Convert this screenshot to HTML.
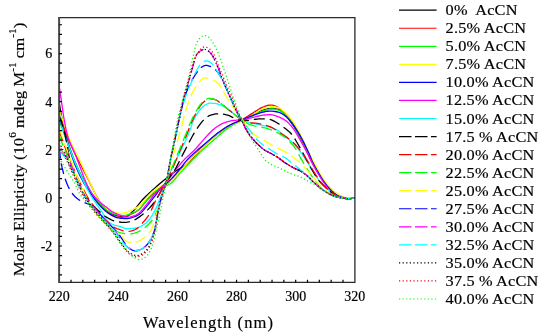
<!DOCTYPE html>
<html><head><meta charset="utf-8"><style>html,body{margin:0;padding:0;background:#fff;}svg{display:block;will-change:transform;}text{stroke:#000;stroke-width:0.18px;}</style></head><body>
<svg width="550" height="335" viewBox="0 0 550 335" style="font-family:'Liberation Serif',serif">
<rect width="550" height="335" fill="#fff"/>
<defs><clipPath id="pc"><rect x="59" y="17" width="296" height="266"/></clipPath></defs>
<g clip-path="url(#pc)" fill="none" stroke-width="1.3" stroke-linejoin="round">
<path d="M59.20,102.90 L60.68,111.74 L62.16,119.43 L63.63,126.40 L65.11,132.48 L66.59,137.81 L68.07,142.73 L69.55,147.30 L71.02,151.57 L72.50,155.60 L73.98,159.42 L75.46,163.04 L76.94,166.46 L78.41,169.69 L79.89,172.78 L81.37,175.76 L82.85,178.66 L84.33,181.52 L85.80,184.32 L87.28,187.03 L88.76,189.62 L90.24,192.05 L91.72,194.29 L93.19,196.37 L94.67,198.35 L96.15,200.22 L97.63,201.97 L99.11,203.61 L100.58,205.12 L102.06,206.54 L103.54,207.91 L105.02,209.20 L106.50,210.39 L107.97,211.44 L109.45,212.33 L110.93,213.12 L112.41,213.88 L113.89,214.56 L115.36,215.16 L116.84,215.62 L118.32,215.94 L119.80,216.16 L121.28,216.36 L122.75,216.51 L124.23,216.62 L125.71,216.66 L127.19,216.30 L128.67,215.37 L130.14,214.05 L131.62,212.57 L133.10,211.13 L134.58,209.60 L136.06,207.82 L137.53,205.89 L139.01,203.93 L140.49,202.03 L141.97,200.31 L143.45,198.74 L144.92,197.23 L146.40,195.78 L147.88,194.37 L149.36,192.99 L150.84,191.63 L152.31,190.29 L153.79,188.95 L155.27,187.63 L156.75,186.34 L158.23,185.06 L159.70,183.80 L161.18,182.56 L162.66,181.33 L164.14,180.11 L165.62,178.90 L167.09,177.69 L168.57,176.49 L170.05,175.30 L171.53,174.13 L173.01,173.01 L174.48,171.93 L175.96,170.92 L177.44,169.98 L178.92,169.10 L180.40,168.23 L181.87,167.35 L183.35,166.45 L184.83,165.48 L186.31,164.43 L187.79,163.26 L189.26,161.93 L190.74,160.47 L192.22,158.93 L193.70,157.36 L195.18,155.81 L196.65,154.25 L198.13,152.63 L199.61,150.98 L201.09,149.32 L202.57,147.68 L204.04,146.07 L205.52,144.53 L207.00,143.07 L208.48,141.67 L209.96,140.31 L211.43,138.99 L212.91,137.70 L214.39,136.45 L215.87,135.24 L217.35,134.08 L218.82,132.97 L220.30,131.89 L221.78,130.84 L223.26,129.82 L224.74,128.83 L226.21,127.88 L227.69,126.97 L229.17,126.10 L230.65,125.27 L232.13,124.49 L233.60,123.77 L235.08,123.08 L236.56,122.42 L238.04,121.77 L239.52,121.11 L240.99,120.44 L242.47,119.74 L243.95,119.00 L245.43,118.24 L246.91,117.46 L248.38,116.68 L249.86,115.90 L251.34,115.14 L252.82,114.41 L254.30,113.73 L255.77,113.05 L257.25,112.37 L258.73,111.71 L260.21,111.10 L261.69,110.56 L263.16,110.12 L264.64,109.73 L266.12,109.34 L267.60,108.99 L269.08,108.70 L270.55,108.51 L272.03,108.43 L273.51,108.51 L274.99,108.72 L276.47,109.03 L277.94,109.40 L279.42,109.98 L280.90,110.89 L282.38,112.01 L283.86,113.24 L285.33,114.70 L286.81,116.48 L288.29,118.45 L289.77,120.46 L291.25,122.52 L292.72,124.71 L294.20,127.00 L295.68,129.36 L297.16,131.80 L298.64,134.33 L300.11,136.97 L301.59,139.70 L303.07,142.58 L304.55,145.60 L306.03,148.68 L307.50,151.72 L308.98,154.77 L310.46,157.83 L311.94,160.85 L313.42,163.75 L314.89,166.53 L316.37,169.22 L317.85,171.83 L319.33,174.33 L320.81,176.77 L322.28,179.14 L323.76,181.39 L325.24,183.47 L326.72,185.41 L328.20,187.23 L329.67,188.92 L331.15,190.44 L332.63,191.85 L334.11,193.16 L335.59,194.32 L337.06,195.25 L338.54,196.02 L340.02,196.69 L341.50,197.24 L342.98,197.66 L344.45,198.00 L345.93,198.31 L347.41,198.54 L348.89,198.62 L350.37,198.58 L351.84,198.46 L353.32,198.23 L354.80,197.90" stroke="#000000" />
<path d="M59.20,114.93 L60.68,119.14 L62.16,123.23 L63.63,127.21 L65.11,131.04 L66.59,134.76 L68.07,138.40 L69.55,141.92 L71.02,145.33 L72.50,148.60 L73.98,151.70 L75.46,154.67 L76.94,157.55 L78.41,160.38 L79.89,163.22 L81.37,166.11 L82.85,169.00 L84.33,171.88 L85.80,174.77 L87.28,177.66 L88.76,180.58 L90.24,183.60 L91.72,186.70 L93.19,189.78 L94.67,192.75 L96.15,195.50 L97.63,198.08 L99.11,200.58 L100.58,202.95 L102.06,205.12 L103.54,207.04 L105.02,208.77 L106.50,210.40 L107.97,211.88 L109.45,213.18 L110.93,214.25 L112.41,215.24 L113.89,216.17 L115.36,216.87 L116.84,217.14 L118.32,217.14 L119.80,217.14 L121.28,217.14 L122.75,217.14 L124.23,216.88 L125.71,216.31 L127.19,215.70 L128.67,215.16 L130.14,214.59 L131.62,213.97 L133.10,213.29 L134.58,212.55 L136.06,211.73 L137.53,210.79 L139.01,209.68 L140.49,208.20 L141.97,206.40 L143.45,204.45 L144.92,202.52 L146.40,200.79 L147.88,199.25 L149.36,197.79 L150.84,196.37 L152.31,195.00 L153.79,193.63 L155.27,192.27 L156.75,190.88 L158.23,189.53 L159.70,188.24 L161.18,187.08 L162.66,186.07 L164.14,185.19 L165.62,184.36 L167.09,183.52 L168.57,182.60 L170.05,181.55 L171.53,180.30 L173.01,178.88 L174.48,177.33 L175.96,175.70 L177.44,174.03 L178.92,172.35 L180.40,170.72 L181.87,169.11 L183.35,167.47 L184.83,165.80 L186.31,164.14 L187.79,162.49 L189.26,160.86 L190.74,159.27 L192.22,157.70 L193.70,156.14 L195.18,154.60 L196.65,153.08 L198.13,151.57 L199.61,150.07 L201.09,148.60 L202.57,147.13 L204.04,145.65 L205.52,144.19 L207.00,142.74 L208.48,141.32 L209.96,139.93 L211.43,138.59 L212.91,137.29 L214.39,136.04 L215.87,134.80 L217.35,133.58 L218.82,132.40 L220.30,131.25 L221.78,130.16 L223.26,129.12 L224.74,128.16 L226.21,127.25 L227.69,126.40 L229.17,125.60 L230.65,124.83 L232.13,124.08 L233.60,123.34 L235.08,122.64 L236.56,121.97 L238.04,121.33 L239.52,120.67 L240.99,119.99 L242.47,119.26 L243.95,118.45 L245.43,117.59 L246.91,116.68 L248.38,115.75 L249.86,114.80 L251.34,113.86 L252.82,112.93 L254.30,112.04 L255.77,111.14 L257.25,110.19 L258.73,109.26 L260.21,108.38 L261.69,107.61 L263.16,106.99 L264.64,106.46 L266.12,105.94 L267.60,105.49 L269.08,105.18 L270.55,105.07 L272.03,105.19 L273.51,105.51 L274.99,105.97 L276.47,106.51 L277.94,107.32 L279.42,108.51 L280.90,109.91 L282.38,111.32 L283.86,112.71 L285.33,114.19 L286.81,115.77 L288.29,117.46 L289.77,119.28 L291.25,121.26 L292.72,123.40 L294.20,125.68 L295.68,128.11 L297.16,130.70 L298.64,133.54 L300.11,136.59 L301.59,139.76 L303.07,142.98 L304.55,146.19 L306.03,149.49 L307.50,152.91 L308.98,156.28 L310.46,159.42 L311.94,162.33 L313.42,165.10 L314.89,167.74 L316.37,170.24 L317.85,172.63 L319.33,174.92 L320.81,177.09 L322.28,179.14 L323.76,181.10 L325.24,182.96 L326.72,184.72 L328.20,186.36 L329.67,187.89 L331.15,189.34 L332.63,190.68 L334.11,191.89 L335.59,193.00 L337.06,194.03 L338.54,194.96 L340.02,195.74 L341.50,196.42 L342.98,197.04 L344.45,197.56 L345.93,197.90 L347.41,198.13 L348.89,198.31 L350.37,198.38 L351.84,198.33 L353.32,198.17 L354.80,197.90" stroke="#ff0000" />
<path d="M59.20,120.94 L60.68,124.87 L62.16,128.79 L63.63,132.69 L65.11,136.57 L66.59,140.48 L68.07,144.44 L69.55,148.39 L71.02,152.29 L72.50,156.09 L73.98,159.73 L75.46,163.19 L76.94,166.54 L78.41,169.78 L79.89,172.90 L81.37,175.87 L82.85,178.66 L84.33,181.24 L85.80,183.65 L87.28,185.96 L88.76,188.28 L90.24,190.63 L91.72,192.98 L93.19,195.26 L94.67,197.42 L96.15,199.52 L97.63,201.57 L99.11,203.47 L100.58,205.12 L102.06,206.51 L103.54,207.76 L105.02,208.89 L106.50,209.93 L107.97,210.89 L109.45,211.80 L110.93,212.61 L112.41,213.29 L113.89,213.92 L115.36,214.51 L116.84,214.97 L118.32,215.22 L119.80,215.31 L121.28,215.39 L122.75,215.44 L124.23,215.46 L125.71,215.29 L127.19,214.87 L128.67,214.33 L130.14,213.77 L131.62,213.24 L133.10,212.67 L134.58,212.03 L136.06,211.30 L137.53,210.45 L139.01,209.47 L140.49,208.05 L141.97,206.22 L143.45,204.18 L144.92,202.14 L146.40,200.31 L147.88,198.60 L149.36,196.89 L150.84,195.24 L152.31,193.70 L153.79,192.36 L155.27,191.24 L156.75,190.26 L158.23,189.37 L159.70,188.56 L161.18,187.80 L162.66,187.12 L164.14,186.54 L165.62,185.99 L167.09,185.42 L168.57,184.76 L170.05,183.95 L171.53,182.85 L173.01,181.43 L174.48,179.78 L175.96,177.98 L177.44,176.13 L178.92,174.33 L180.40,172.65 L181.87,171.06 L183.35,169.48 L184.83,167.91 L186.31,166.34 L187.79,164.79 L189.26,163.24 L190.74,161.71 L192.22,160.20 L193.70,158.70 L195.18,157.21 L196.65,155.73 L198.13,154.27 L199.61,152.82 L201.09,151.39 L202.57,149.98 L204.04,148.60 L205.52,147.24 L207.00,145.92 L208.48,144.61 L209.96,143.33 L211.43,142.05 L212.91,140.77 L214.39,139.49 L215.87,138.20 L217.35,136.88 L218.82,135.55 L220.30,134.24 L221.78,132.95 L223.26,131.72 L224.74,130.56 L226.21,129.45 L227.69,128.37 L229.17,127.32 L230.65,126.33 L232.13,125.40 L233.60,124.55 L235.08,123.78 L236.56,123.07 L238.04,122.41 L239.52,121.77 L240.99,121.13 L242.47,120.46 L243.95,119.77 L245.43,119.08 L246.91,118.39 L248.38,117.69 L249.86,117.00 L251.34,116.31 L252.82,115.62 L254.30,114.93 L255.77,114.21 L257.25,113.45 L258.73,112.70 L260.21,111.98 L261.69,111.35 L263.16,110.84 L264.64,110.39 L266.12,109.95 L267.60,109.55 L269.08,109.22 L270.55,109.00 L272.03,108.91 L273.51,109.00 L274.99,109.21 L276.47,109.52 L277.94,109.88 L279.42,110.41 L280.90,111.19 L282.38,112.16 L283.86,113.24 L285.33,114.53 L286.81,116.11 L288.29,117.87 L289.77,119.74 L291.25,121.74 L292.72,123.93 L294.20,126.25 L295.68,128.64 L297.16,131.06 L298.64,133.58 L300.11,136.20 L301.59,138.98 L303.07,141.99 L304.55,145.23 L306.03,148.53 L307.50,151.72 L308.98,154.82 L310.46,157.88 L311.94,160.87 L313.42,163.75 L314.89,166.53 L316.37,169.22 L317.85,171.83 L319.33,174.33 L320.81,176.77 L322.28,179.14 L323.76,181.39 L325.24,183.47 L326.72,185.41 L328.20,187.23 L329.67,188.92 L331.15,190.44 L332.63,191.85 L334.11,193.16 L335.59,194.32 L337.06,195.25 L338.54,196.02 L340.02,196.69 L341.50,197.24 L342.98,197.66 L344.45,198.00 L345.93,198.31 L347.41,198.54 L348.89,198.62 L350.37,198.58 L351.84,198.46 L353.32,198.23 L354.80,197.90" stroke="#00ff00" />
<path d="M59.20,110.12 L60.68,114.39 L62.16,118.64 L63.63,122.87 L65.11,127.11 L66.59,131.39 L68.07,135.37 L69.55,138.94 L71.02,142.28 L72.50,145.47 L73.98,148.60 L75.46,151.63 L76.94,154.55 L78.41,157.48 L79.89,160.52 L81.37,163.71 L82.85,166.98 L84.33,170.24 L85.80,173.53 L87.28,176.86 L88.76,180.15 L90.24,183.33 L91.72,186.45 L93.19,189.64 L94.67,192.76 L96.15,195.70 L97.63,198.30 L99.11,200.46 L100.58,202.33 L102.06,204.03 L103.54,205.55 L105.02,206.88 L106.50,208.00 L107.97,208.98 L109.45,209.86 L110.93,210.64 L112.41,211.30 L113.89,211.85 L115.36,212.35 L116.84,212.81 L118.32,213.16 L119.80,213.29 L121.28,213.22 L122.75,213.02 L124.23,212.74 L125.71,212.39 L127.19,212.01 L128.67,211.43 L130.14,210.68 L131.62,209.93 L133.10,209.24 L134.58,208.58 L136.06,207.88 L137.53,207.07 L139.01,206.10 L140.49,204.78 L141.97,203.15 L143.45,201.36 L144.92,199.56 L146.40,197.90 L147.88,196.33 L149.36,194.73 L150.84,193.18 L152.31,191.72 L153.79,190.42 L155.27,189.33 L156.75,188.37 L158.23,187.49 L159.70,186.67 L161.18,185.88 L162.66,185.13 L164.14,184.47 L165.62,183.84 L167.09,183.17 L168.57,182.43 L170.05,181.55 L171.53,180.44 L173.01,179.11 L174.48,177.60 L175.96,175.98 L177.44,174.29 L178.92,172.60 L180.40,170.96 L181.87,169.33 L183.35,167.64 L184.83,165.91 L186.31,164.19 L187.79,162.49 L189.26,160.85 L190.74,159.29 L192.22,157.79 L193.70,156.35 L195.18,154.93 L196.65,153.53 L198.13,152.14 L199.61,150.74 L201.09,149.32 L202.57,147.86 L204.04,146.38 L205.52,144.88 L207.00,143.39 L208.48,141.91 L209.96,140.47 L211.43,139.09 L212.91,137.78 L214.39,136.51 L215.87,135.26 L217.35,134.05 L218.82,132.86 L220.30,131.73 L221.78,130.64 L223.26,129.60 L224.74,128.64 L226.21,127.72 L227.69,126.85 L229.17,126.03 L230.65,125.24 L232.13,124.51 L233.60,123.83 L235.08,123.21 L236.56,122.66 L238.04,122.15 L239.52,121.63 L240.99,121.08 L242.47,120.46 L243.95,119.75 L245.43,118.97 L246.91,118.14 L248.38,117.27 L249.86,116.37 L251.34,115.47 L252.82,114.59 L254.30,113.73 L255.77,112.84 L257.25,111.89 L258.73,110.95 L260.21,110.06 L261.69,109.28 L263.16,108.67 L264.64,108.16 L266.12,107.66 L267.60,107.21 L269.08,106.85 L270.55,106.60 L272.03,106.51 L273.51,106.59 L274.99,106.80 L276.47,107.11 L277.94,107.47 L279.42,108.07 L280.90,109.01 L282.38,110.13 L283.86,111.32 L285.33,112.57 L286.81,113.97 L288.29,115.52 L289.77,117.22 L291.25,119.11 L292.72,121.26 L294.20,123.60 L295.68,126.08 L297.16,128.64 L298.64,131.30 L300.11,134.12 L301.59,137.07 L303.07,140.09 L304.55,143.15 L306.03,146.23 L307.50,149.47 L308.98,152.73 L310.46,155.81 L311.94,158.64 L313.42,161.31 L314.89,163.94 L316.37,166.63 L317.85,169.49 L319.33,172.39 L320.81,175.05 L322.28,177.43 L323.76,179.65 L325.24,181.72 L326.72,183.66 L328.20,185.49 L329.67,187.21 L331.15,188.76 L332.63,190.17 L334.11,191.47 L335.59,192.65 L337.06,193.74 L338.54,194.78 L340.02,195.71 L341.50,196.46 L342.98,197.06 L344.45,197.56 L345.93,197.90 L347.41,198.13 L348.89,198.31 L350.37,198.38 L351.84,198.33 L353.32,198.17 L354.80,197.90" stroke="#ffff00" />
<path d="M59.20,118.54 L60.68,122.70 L62.16,126.88 L63.63,131.11 L65.11,135.37 L66.59,139.77 L68.07,144.35 L69.55,148.97 L71.02,153.52 L72.50,157.90 L73.98,161.98 L75.46,165.66 L76.94,169.09 L78.41,172.33 L79.89,175.40 L81.37,178.30 L82.85,181.06 L84.33,183.66 L85.80,186.10 L87.28,188.43 L88.76,190.69 L90.24,192.90 L91.72,195.04 L93.19,197.12 L94.67,199.10 L96.15,201.03 L97.63,202.90 L99.11,204.67 L100.58,206.32 L102.06,207.85 L103.54,209.30 L105.02,210.64 L106.50,211.85 L107.97,212.96 L109.45,213.99 L110.93,214.92 L112.41,215.70 L113.89,216.39 L115.36,217.02 L116.84,217.53 L118.32,217.86 L119.80,218.06 L121.28,218.24 L122.75,218.39 L124.23,218.50 L125.71,218.57 L127.19,218.58 L128.67,218.41 L130.14,218.06 L131.62,217.61 L133.10,217.14 L134.58,216.66 L136.06,216.08 L137.53,215.39 L139.01,214.55 L140.49,213.36 L141.97,211.84 L143.45,210.12 L144.92,208.31 L146.40,206.56 L147.88,204.83 L149.36,203.04 L150.84,201.20 L152.31,199.33 L153.79,197.45 L155.27,195.54 L156.75,193.50 L158.23,191.45 L159.70,189.51 L161.18,187.80 L162.66,186.35 L164.14,185.06 L165.62,183.86 L167.09,182.69 L168.57,181.46 L170.05,180.10 L171.53,178.61 L173.01,177.04 L174.48,175.40 L175.96,173.71 L177.44,171.98 L178.92,170.24 L180.40,168.43 L181.87,166.53 L183.35,164.59 L184.83,162.70 L186.31,160.90 L187.79,159.27 L189.26,157.74 L190.74,156.30 L192.22,154.91 L193.70,153.55 L195.18,152.21 L196.65,150.88 L198.13,149.58 L199.61,148.31 L201.09,147.06 L202.57,145.82 L204.04,144.58 L205.52,143.35 L207.00,142.10 L208.48,140.84 L209.96,139.56 L211.43,138.27 L212.91,136.99 L214.39,135.73 L215.87,134.51 L217.35,133.34 L218.82,132.24 L220.30,131.19 L221.78,130.17 L223.26,129.17 L224.74,128.21 L226.21,127.28 L227.69,126.40 L229.17,125.57 L230.65,124.79 L232.13,124.06 L233.60,123.38 L235.08,122.74 L236.56,122.13 L238.04,121.53 L239.52,120.94 L240.99,120.34 L242.47,119.74 L243.95,119.12 L245.43,118.49 L246.91,117.87 L248.38,117.25 L249.86,116.64 L251.34,116.05 L252.82,115.47 L254.30,114.93 L255.77,114.38 L257.25,113.83 L258.73,113.30 L260.21,112.81 L261.69,112.38 L263.16,112.04 L264.64,111.75 L266.12,111.47 L267.60,111.24 L269.08,111.10 L270.55,111.09 L272.03,111.16 L273.51,111.31 L274.99,111.51 L276.47,111.76 L277.94,112.04 L279.42,112.48 L280.90,113.16 L282.38,114.00 L283.86,114.93 L285.33,116.02 L286.81,117.34 L288.29,118.84 L289.77,120.46 L291.25,122.21 L292.72,124.13 L294.20,126.21 L295.68,128.42 L297.16,130.74 L298.64,133.15 L300.11,135.63 L301.59,138.28 L303.07,141.12 L304.55,144.09 L306.03,147.16 L307.50,150.28 L308.98,153.59 L310.46,157.10 L311.94,160.57 L313.42,163.75 L314.89,166.61 L316.37,169.30 L317.85,171.85 L319.33,174.33 L320.81,176.77 L322.28,179.14 L323.76,181.39 L325.24,183.47 L326.72,185.41 L328.20,187.23 L329.67,188.92 L331.15,190.44 L332.63,191.85 L334.11,193.16 L335.59,194.32 L337.06,195.25 L338.54,196.02 L340.02,196.69 L341.50,197.24 L342.98,197.66 L344.45,198.00 L345.93,198.31 L347.41,198.54 L348.89,198.62 L350.37,198.58 L351.84,198.46 L353.32,198.23 L354.80,197.90" stroke="#0000ff" />
<path d="M59.20,86.79 L60.68,95.94 L62.16,106.42 L63.63,116.50 L65.11,124.77 L66.59,132.00 L68.07,137.52 L69.55,141.63 L71.02,145.04 L72.50,148.13 L73.98,151.30 L75.46,154.90 L76.94,158.77 L78.41,162.69 L79.89,166.57 L81.37,170.56 L82.85,174.56 L84.33,178.42 L85.80,182.00 L87.28,185.18 L88.76,188.11 L90.24,190.77 L91.72,193.09 L93.19,195.11 L94.67,196.92 L96.15,198.56 L97.63,200.06 L99.11,201.44 L100.58,202.70 L102.06,203.89 L103.54,205.03 L105.02,206.15 L106.50,207.29 L107.97,208.49 L109.45,209.72 L110.93,210.88 L112.41,211.85 L113.89,212.64 L115.36,213.33 L116.84,213.95 L118.32,214.52 L119.80,215.07 L121.28,215.67 L122.75,216.24 L124.23,216.73 L125.71,217.05 L127.19,217.14 L128.67,217.04 L130.14,216.82 L131.62,216.52 L133.10,216.18 L134.58,215.69 L136.06,214.97 L137.53,214.08 L139.01,213.08 L140.49,211.77 L141.97,210.14 L143.45,208.33 L144.92,206.45 L146.40,204.63 L147.88,202.85 L149.36,200.99 L150.84,199.11 L152.31,197.26 L153.79,195.46 L155.27,193.77 L156.75,192.17 L158.23,190.63 L159.70,189.12 L161.18,187.62 L162.66,186.11 L164.14,184.55 L165.62,182.92 L167.09,181.19 L168.57,179.31 L170.05,177.32 L171.53,175.31 L173.01,173.37 L174.48,171.47 L175.96,169.57 L177.44,167.68 L178.92,165.82 L180.40,164.01 L181.87,162.27 L183.35,160.62 L184.83,159.08 L186.31,157.64 L187.79,156.27 L189.26,154.93 L190.74,153.59 L192.22,152.23 L193.70,150.82 L195.18,149.32 L196.65,147.71 L198.13,146.02 L199.61,144.29 L201.09,142.59 L202.57,140.88 L204.04,139.16 L205.52,137.46 L207.00,135.85 L208.48,134.28 L209.96,132.71 L211.43,131.21 L212.91,129.84 L214.39,128.64 L215.87,127.56 L217.35,126.53 L218.82,125.57 L220.30,124.68 L221.78,123.88 L223.26,123.19 L224.74,122.62 L226.21,122.14 L227.69,121.70 L229.17,121.30 L230.65,120.96 L232.13,120.67 L233.60,120.46 L235.08,120.30 L236.56,120.19 L238.04,120.09 L239.52,120.00 L240.99,119.89 L242.47,119.74 L243.95,119.53 L245.43,119.25 L246.91,118.93 L248.38,118.57 L249.86,118.19 L251.34,117.81 L252.82,117.44 L254.30,117.09 L255.77,116.74 L257.25,116.37 L258.73,116.00 L260.21,115.66 L261.69,115.37 L263.16,115.17 L264.64,115.02 L266.12,114.88 L267.60,114.77 L269.08,114.70 L270.55,114.70 L272.03,114.88 L273.51,115.20 L274.99,115.63 L276.47,116.12 L277.94,116.61 L279.42,117.15 L280.90,117.80 L282.38,118.56 L283.86,119.42 L285.33,120.38 L286.81,121.53 L288.29,122.87 L289.77,124.38 L291.25,126.03 L292.72,127.80 L294.20,129.87 L295.68,132.23 L297.16,134.78 L298.64,137.39 L300.11,139.97 L301.59,142.56 L303.07,145.22 L304.55,147.93 L306.03,150.69 L307.50,153.49 L308.98,156.40 L310.46,159.37 L311.94,162.34 L313.42,165.19 L314.89,167.95 L316.37,170.66 L317.85,173.28 L319.33,175.77 L320.81,178.14 L322.28,180.42 L323.76,182.59 L325.24,184.67 L326.72,186.74 L328.20,188.78 L329.67,190.63 L331.15,192.13 L332.63,193.31 L334.11,194.34 L335.59,195.22 L337.06,195.98 L338.54,196.67 L340.02,197.31 L341.50,197.82 L342.98,198.14 L344.45,198.33 L345.93,198.48 L347.41,198.58 L348.89,198.62 L350.37,198.57 L351.84,198.43 L353.32,198.20 L354.80,197.90" stroke="#ff00ff" />
<path d="M59.20,113.73 L60.68,121.44 L62.16,127.42 L63.63,132.09 L65.11,136.17 L66.59,140.18 L68.07,144.29 L69.55,148.33 L71.02,152.29 L72.50,156.15 L73.98,159.90 L75.46,163.54 L76.94,167.03 L78.41,170.37 L79.89,173.59 L81.37,176.74 L82.85,179.86 L84.33,182.99 L85.80,186.10 L87.28,189.09 L88.76,191.89 L90.24,194.47 L91.72,196.91 L93.19,199.24 L94.67,201.51 L96.15,203.69 L97.63,205.80 L99.11,207.86 L100.58,209.93 L102.06,212.17 L103.54,214.61 L105.02,217.08 L106.50,219.38 L107.97,221.33 L109.45,222.77 L110.93,223.61 L112.41,224.27 L113.89,224.80 L115.36,225.26 L116.84,225.67 L118.32,226.07 L119.80,226.49 L121.28,226.97 L122.75,227.56 L124.23,228.14 L125.71,228.56 L127.19,228.68 L128.67,228.65 L130.14,228.56 L131.62,228.44 L133.10,228.28 L134.58,228.08 L136.06,227.86 L137.53,227.61 L139.01,227.17 L140.49,226.54 L141.97,225.75 L143.45,224.83 L144.92,223.80 L146.40,222.68 L147.88,221.23 L149.36,219.45 L150.84,217.39 L152.31,215.10 L153.79,212.63 L155.27,209.91 L156.75,206.56 L158.23,202.85 L159.70,199.10 L161.18,195.32 L162.66,191.38 L164.14,187.40 L165.62,183.53 L167.09,179.86 L168.57,176.32 L170.05,172.85 L171.53,169.47 L173.01,166.20 L174.48,163.03 L175.96,160.02 L177.44,157.18 L178.92,154.39 L180.40,151.56 L181.87,148.60 L183.35,145.53 L184.83,142.42 L186.31,139.20 L187.79,135.82 L189.26,132.21 L190.74,127.91 L192.22,123.45 L193.70,119.74 L195.18,116.87 L196.65,114.34 L198.13,112.12 L199.61,110.22 L201.09,108.55 L202.57,107.03 L204.04,105.73 L205.52,104.74 L207.00,104.00 L208.48,103.40 L209.96,103.14 L211.43,103.18 L212.91,103.29 L214.39,103.44 L215.87,103.62 L217.35,103.90 L218.82,104.33 L220.30,104.89 L221.78,105.54 L223.26,106.25 L224.74,106.99 L226.21,107.86 L227.69,108.93 L229.17,110.13 L230.65,111.37 L232.13,112.59 L233.60,113.73 L235.08,114.80 L236.56,115.90 L238.04,116.97 L239.52,117.99 L240.99,118.93 L242.47,119.74 L243.95,120.44 L245.43,121.08 L246.91,121.65 L248.38,122.14 L249.86,122.57 L251.34,122.96 L252.82,123.31 L254.30,123.65 L255.77,123.97 L257.25,124.31 L258.73,124.63 L260.21,124.94 L261.69,125.24 L263.16,125.54 L264.64,125.87 L266.12,126.23 L267.60,126.61 L269.08,127.00 L270.55,127.42 L272.03,127.88 L273.51,128.39 L274.99,128.97 L276.47,129.65 L277.94,130.56 L279.42,131.67 L280.90,132.89 L282.38,134.15 L283.86,135.37 L285.33,136.54 L286.81,137.71 L288.29,138.91 L289.77,140.15 L291.25,141.47 L292.72,142.87 L294.20,144.39 L295.68,146.00 L297.16,147.71 L298.64,149.51 L300.11,151.38 L301.59,153.39 L303.07,155.51 L304.55,157.73 L306.03,160.00 L307.50,162.28 L308.98,164.67 L310.46,167.12 L311.94,169.57 L313.42,171.93 L314.89,174.21 L316.37,176.47 L317.85,178.61 L319.33,180.58 L320.81,182.38 L322.28,184.05 L323.76,185.61 L325.24,187.08 L326.72,188.46 L328.20,189.77 L329.67,190.99 L331.15,192.13 L332.63,193.21 L334.11,194.25 L335.59,195.19 L337.06,195.98 L338.54,196.67 L340.02,197.31 L341.50,197.82 L342.98,198.14 L344.45,198.33 L345.93,198.48 L347.41,198.58 L348.89,198.62 L350.37,198.57 L351.84,198.43 L353.32,198.20 L354.80,197.90" stroke="#00ffff" />
<path d="M59.20,116.13 L60.68,120.02 L62.16,124.59 L63.63,129.74 L65.11,135.37 L66.59,142.39 L68.07,150.73 L69.55,158.79 L71.02,164.95 L72.50,169.13 L73.98,172.55 L75.46,175.59 L76.94,178.66 L78.41,181.84 L79.89,184.94 L81.37,187.90 L82.85,190.69 L84.33,193.33 L85.80,195.86 L87.28,198.21 L88.76,200.31 L90.24,202.18 L91.72,203.92 L93.19,205.55 L94.67,207.08 L96.15,208.53 L97.63,209.93 L99.11,211.29 L100.58,212.63 L102.06,213.91 L103.54,215.11 L105.02,216.19 L106.50,217.14 L107.97,218.00 L109.45,218.84 L110.93,219.60 L112.41,220.28 L113.89,220.83 L115.36,221.23 L116.84,221.53 L118.32,221.82 L119.80,222.06 L121.28,222.26 L122.75,222.38 L124.23,222.43 L125.71,222.35 L127.19,222.14 L128.67,221.83 L130.14,221.43 L131.62,220.98 L133.10,220.51 L134.58,219.90 L136.06,219.08 L137.53,218.13 L139.01,217.14 L140.49,216.10 L141.97,214.96 L143.45,213.73 L144.92,212.42 L146.40,211.05 L147.88,209.61 L149.36,208.09 L150.84,206.47 L152.31,204.75 L153.79,202.91 L155.27,200.93 L156.75,198.65 L158.23,196.12 L159.70,193.42 L161.18,190.64 L162.66,187.86 L164.14,185.18 L165.62,182.68 L167.09,180.45 L168.57,178.47 L170.05,176.62 L171.53,174.76 L173.01,172.77 L174.48,170.50 L175.96,167.93 L177.44,165.13 L178.92,162.20 L180.40,159.21 L181.87,156.25 L183.35,153.41 L184.83,150.60 L186.31,147.75 L187.79,144.87 L189.26,142.01 L190.74,139.20 L192.22,136.48 L193.70,133.87 L195.18,131.42 L196.65,129.16 L198.13,126.98 L199.61,124.87 L201.09,122.89 L202.57,121.10 L204.04,119.55 L205.52,118.25 L207.00,117.06 L208.48,116.07 L209.96,115.41 L211.43,114.96 L212.91,114.56 L214.39,114.22 L215.87,113.96 L217.35,113.79 L218.82,113.73 L220.30,113.78 L221.78,113.94 L223.26,114.18 L224.74,114.47 L226.21,114.81 L227.69,115.17 L229.17,115.67 L230.65,116.38 L232.13,117.17 L233.60,117.93 L235.08,118.54 L236.56,119.05 L238.04,119.56 L239.52,120.02 L240.99,120.34 L242.47,120.46 L243.95,120.46 L245.43,120.46 L246.91,120.46 L248.38,120.46 L249.86,120.35 L251.34,120.07 L252.82,119.73 L254.30,119.42 L255.77,119.23 L257.25,119.09 L258.73,118.97 L260.21,118.87 L261.69,118.80 L263.16,118.78 L264.64,118.81 L266.12,118.92 L267.60,119.07 L269.08,119.26 L270.55,119.60 L272.03,120.17 L273.51,120.89 L274.99,121.68 L276.47,122.46 L277.94,123.34 L279.42,124.32 L280.90,125.36 L282.38,126.41 L283.86,127.46 L285.33,128.53 L286.81,129.66 L288.29,130.88 L289.77,132.24 L291.25,133.77 L292.72,135.63 L294.20,137.80 L295.68,140.21 L297.16,142.75 L298.64,145.34 L300.11,147.91 L301.59,150.56 L303.07,153.34 L304.55,156.16 L306.03,158.94 L307.50,161.71 L308.98,164.51 L310.46,167.22 L311.94,169.78 L313.42,172.26 L314.89,174.68 L316.37,177.00 L317.85,179.14 L319.33,181.06 L320.81,182.75 L322.28,184.28 L323.76,185.70 L325.24,187.08 L326.72,188.43 L328.20,189.74 L329.67,190.98 L331.15,192.13 L332.63,193.21 L334.11,194.25 L335.59,195.19 L337.06,195.98 L338.54,196.67 L340.02,197.31 L341.50,197.82 L342.98,198.14 L344.45,198.33 L345.93,198.48 L347.41,198.58 L348.89,198.62 L350.37,198.57 L351.84,198.43 L353.32,198.20 L354.80,197.90" stroke="#000000" stroke-dasharray="11 5"/>
<path d="M59.20,130.56 L60.68,135.00 L62.16,139.29 L63.63,143.42 L65.11,147.40 L66.59,151.16 L68.07,154.75 L69.55,158.27 L71.02,161.82 L72.50,165.49 L73.98,169.20 L75.46,172.83 L76.94,176.25 L78.41,179.44 L79.89,182.48 L81.37,185.41 L82.85,188.28 L84.33,191.14 L85.80,193.95 L87.28,196.64 L88.76,199.10 L90.24,201.36 L91.72,203.50 L93.19,205.52 L94.67,207.46 L96.15,209.32 L97.63,211.13 L99.11,212.89 L100.58,214.62 L102.06,216.29 L103.54,217.88 L105.02,219.37 L106.50,220.75 L107.97,222.07 L109.45,223.39 L110.93,224.67 L112.41,225.87 L113.89,226.94 L115.36,227.86 L116.84,228.57 L118.32,229.12 L119.80,229.66 L121.28,230.15 L122.75,230.58 L124.23,230.94 L125.71,231.19 L127.19,231.32 L128.67,231.30 L130.14,231.10 L131.62,230.77 L133.10,230.31 L134.58,229.77 L136.06,229.17 L137.53,228.23 L139.01,226.83 L140.49,225.18 L141.97,223.48 L143.45,221.86 L144.92,220.21 L146.40,218.44 L147.88,216.48 L149.36,214.25 L150.84,211.43 L152.31,208.04 L153.79,204.59 L155.27,201.55 L156.75,198.77 L158.23,196.11 L159.70,193.48 L161.18,190.83 L162.66,188.24 L164.14,185.65 L165.62,182.99 L167.09,180.15 L168.57,177.14 L170.05,174.00 L171.53,170.77 L173.01,167.47 L174.48,164.04 L175.96,160.51 L177.44,156.93 L178.92,153.34 L180.40,149.80 L181.87,146.34 L183.35,142.91 L184.83,139.45 L186.31,135.87 L187.79,132.01 L189.26,127.99 L190.74,124.35 L192.22,120.93 L193.70,117.69 L195.18,114.69 L196.65,112.01 L198.13,109.44 L199.61,106.99 L201.09,104.80 L202.57,103.01 L204.04,101.70 L205.52,100.53 L207.00,99.54 L208.48,98.93 L209.96,98.82 L211.43,98.91 L212.91,99.08 L214.39,99.30 L215.87,99.80 L217.35,100.71 L218.82,101.81 L220.30,102.90 L221.78,103.99 L223.26,105.18 L224.74,106.42 L226.21,107.68 L227.69,108.91 L229.17,110.13 L230.65,111.37 L232.13,112.60 L233.60,113.79 L235.08,114.93 L236.56,116.04 L238.04,117.14 L239.52,118.19 L240.99,119.15 L242.47,119.98 L243.95,120.74 L245.43,121.46 L246.91,122.08 L248.38,122.51 L249.86,122.74 L251.34,122.88 L252.82,122.99 L254.30,123.08 L255.77,123.19 L257.25,123.34 L258.73,123.56 L260.21,123.83 L261.69,124.15 L263.16,124.51 L264.64,124.92 L266.12,125.38 L267.60,125.86 L269.08,126.38 L270.55,126.95 L272.03,127.66 L273.51,128.50 L274.99,129.44 L276.47,130.42 L277.94,131.42 L279.42,132.39 L280.90,133.35 L282.38,134.32 L283.86,135.31 L285.33,136.33 L286.81,137.38 L288.29,138.48 L289.77,139.63 L291.25,140.84 L292.72,142.13 L294.20,143.52 L295.68,145.04 L297.16,146.66 L298.64,148.37 L300.11,150.17 L301.59,152.09 L303.07,154.14 L304.55,156.31 L306.03,158.55 L307.50,160.85 L308.98,163.31 L310.46,165.89 L311.94,168.48 L313.42,170.96 L314.89,173.37 L316.37,175.74 L317.85,178.01 L319.33,180.10 L320.81,182.03 L322.28,183.85 L323.76,185.53 L325.24,187.08 L326.72,188.49 L328.20,189.79 L329.67,191.00 L331.15,192.13 L332.63,193.21 L334.11,194.25 L335.59,195.19 L337.06,195.98 L338.54,196.67 L340.02,197.31 L341.50,197.82 L342.98,198.14 L344.45,198.33 L345.93,198.48 L347.41,198.58 L348.89,198.62 L350.37,198.57 L351.84,198.43 L353.32,198.20 L354.80,197.90" stroke="#ff0000" stroke-dasharray="11 5"/>
<path d="M59.20,135.37 L60.68,139.39 L62.16,143.34 L63.63,147.21 L65.11,151.00 L66.59,154.69 L68.07,158.29 L69.55,161.85 L71.02,165.43 L72.50,169.10 L73.98,172.81 L75.46,176.44 L76.94,179.86 L78.41,183.05 L79.89,186.09 L81.37,189.02 L82.85,191.89 L84.33,194.74 L85.80,197.56 L87.28,200.24 L88.76,202.71 L90.24,204.97 L91.72,207.10 L93.19,209.13 L94.67,211.07 L96.15,212.93 L97.63,214.74 L99.11,216.50 L100.58,218.23 L102.06,219.90 L103.54,221.50 L105.02,222.99 L106.50,224.36 L107.97,225.64 L109.45,226.86 L110.93,227.99 L112.41,229.01 L113.89,229.89 L115.36,230.67 L116.84,231.41 L118.32,232.05 L119.80,232.55 L121.28,232.90 L122.75,233.19 L124.23,233.46 L125.71,233.69 L127.19,233.86 L128.67,233.96 L130.14,233.96 L131.62,233.79 L133.10,233.48 L134.58,233.06 L136.06,232.57 L137.53,232.05 L139.01,231.44 L140.49,230.64 L141.97,229.70 L143.45,228.64 L144.92,227.49 L146.40,226.26 L147.88,224.92 L149.36,223.42 L150.84,221.73 L152.31,219.81 L153.79,217.63 L155.27,215.08 L156.75,211.60 L158.23,207.42 L159.70,202.95 L161.18,198.52 L162.66,193.71 L164.14,188.72 L165.62,183.92 L167.09,179.68 L168.57,175.88 L170.05,172.29 L171.53,168.78 L173.01,165.19 L174.48,161.61 L175.96,158.06 L177.44,154.51 L178.92,150.97 L180.40,147.40 L181.87,143.81 L183.35,140.22 L184.83,136.60 L186.31,132.97 L187.79,129.19 L189.26,125.44 L190.74,122.02 L192.22,118.78 L193.70,115.71 L195.18,112.88 L196.65,110.36 L198.13,107.95 L199.61,105.65 L201.09,103.60 L202.57,101.96 L204.04,100.80 L205.52,99.79 L207.00,98.95 L208.48,98.43 L209.96,98.35 L211.43,98.54 L212.91,98.88 L214.39,99.30 L215.87,99.91 L217.35,100.80 L218.82,101.84 L220.30,102.90 L221.78,103.99 L223.26,105.18 L224.74,106.42 L226.21,107.68 L227.69,108.91 L229.17,110.13 L230.65,111.37 L232.13,112.60 L233.60,113.79 L235.08,114.93 L236.56,116.00 L238.04,117.02 L239.52,118.02 L240.99,119.00 L242.47,119.98 L243.95,121.01 L245.43,122.07 L246.91,123.04 L248.38,123.83 L249.86,124.44 L251.34,124.97 L252.82,125.44 L254.30,125.86 L255.77,126.23 L257.25,126.55 L258.73,126.82 L260.21,127.06 L261.69,127.29 L263.16,127.55 L264.64,127.85 L266.12,128.20 L267.60,128.60 L269.08,129.05 L270.55,129.54 L272.03,130.08 L273.51,130.68 L274.99,131.37 L276.47,132.12 L277.94,132.92 L279.42,133.76 L280.90,134.63 L282.38,135.57 L283.86,136.61 L285.33,137.77 L286.81,139.00 L288.29,140.32 L289.77,141.75 L291.25,143.28 L292.72,144.96 L294.20,146.78 L295.68,148.78 L297.16,151.36 L298.64,154.29 L300.11,157.06 L301.59,159.65 L303.07,162.20 L304.55,164.70 L306.03,167.14 L307.50,169.51 L308.98,171.85 L310.46,174.15 L311.94,176.39 L313.42,178.54 L314.89,180.58 L316.37,182.56 L317.85,184.46 L319.33,186.23 L320.81,187.80 L322.28,189.18 L323.76,190.45 L325.24,191.60 L326.72,192.61 L328.20,193.52 L329.67,194.36 L331.15,195.11 L332.63,195.74 L334.11,196.29 L335.59,196.80 L337.06,197.25 L338.54,197.63 L340.02,197.90 L341.50,198.11 L342.98,198.31 L344.45,198.47 L345.93,198.58 L347.41,198.62 L348.89,198.59 L350.37,198.51 L351.84,198.36 L353.32,198.16 L354.80,197.90" stroke="#00ff00" stroke-dasharray="11 5"/>
<path d="M59.20,128.16 L60.68,132.48 L62.16,136.73 L63.63,140.90 L65.11,144.99 L66.59,148.98 L68.07,152.88 L69.55,156.74 L71.02,160.62 L72.50,164.59 L73.98,168.60 L75.46,172.53 L76.94,176.25 L78.41,179.75 L79.89,183.09 L81.37,186.32 L82.85,189.48 L84.33,192.65 L85.80,195.78 L87.28,198.77 L88.76,201.51 L90.24,204.01 L91.72,206.40 L93.19,208.66 L94.67,210.80 L96.15,212.82 L97.63,214.74 L99.11,216.53 L100.58,218.23 L102.06,219.84 L103.54,221.39 L105.02,222.89 L106.50,224.36 L107.97,225.82 L109.45,227.26 L110.93,228.65 L112.41,229.94 L113.89,231.09 L115.36,232.04 L116.84,232.85 L118.32,233.64 L119.80,234.54 L121.28,235.71 L122.75,237.48 L124.23,239.40 L125.71,240.86 L127.19,241.52 L128.67,242.01 L130.14,242.38 L131.62,242.59 L133.10,242.61 L134.58,242.42 L136.06,242.08 L137.53,241.67 L139.01,241.12 L140.49,240.33 L141.97,239.39 L143.45,238.37 L144.92,237.22 L146.40,235.90 L147.88,234.37 L149.36,232.56 L150.84,230.38 L152.31,227.32 L153.79,223.51 L155.27,219.08 L156.75,213.31 L158.23,207.52 L159.70,202.51 L161.18,197.75 L162.66,193.09 L164.14,188.63 L165.62,184.19 L167.09,179.22 L168.57,173.55 L170.05,167.50 L171.53,161.46 L173.01,155.81 L174.48,150.70 L175.96,145.87 L177.44,141.11 L178.92,136.21 L180.40,130.95 L181.87,125.29 L183.35,119.51 L184.83,113.95 L186.31,108.91 L187.79,104.33 L189.26,100.04 L190.74,96.28 L192.22,93.15 L193.70,90.35 L195.18,87.84 L196.65,85.61 L198.13,83.66 L199.61,81.74 L201.09,79.87 L202.57,78.45 L204.04,77.89 L205.52,77.97 L207.00,78.19 L208.48,78.50 L209.96,78.85 L211.43,79.30 L212.91,79.92 L214.39,80.71 L215.87,81.64 L217.35,82.71 L218.82,84.04 L220.30,86.01 L221.78,88.48 L223.26,91.22 L224.74,94.01 L226.21,96.65 L227.69,99.00 L229.17,101.30 L230.65,103.57 L232.13,105.81 L233.60,107.99 L235.08,110.12 L236.56,112.16 L238.04,114.13 L239.52,116.06 L240.99,118.00 L242.47,119.98 L243.95,122.10 L245.43,124.34 L246.91,126.58 L248.38,128.70 L249.86,130.57 L251.34,132.09 L252.82,133.40 L254.30,134.56 L255.77,135.61 L257.25,136.57 L258.73,137.42 L260.21,138.17 L261.69,138.91 L263.16,139.70 L264.64,140.60 L266.12,141.56 L267.60,142.54 L269.08,143.49 L270.55,144.37 L272.03,145.22 L273.51,146.04 L274.99,146.84 L276.47,147.61 L277.94,148.36 L279.42,149.05 L280.90,149.69 L282.38,150.33 L283.86,151.02 L285.33,151.82 L286.81,152.74 L288.29,153.76 L289.77,154.84 L291.25,155.93 L292.72,157.02 L294.20,158.06 L295.68,159.09 L297.16,160.16 L298.64,161.30 L300.11,162.57 L301.59,164.05 L303.07,165.68 L304.55,167.37 L306.03,169.04 L307.50,170.66 L308.98,172.28 L310.46,173.93 L311.94,175.64 L313.42,177.48 L314.89,179.39 L316.37,181.26 L317.85,182.99 L319.33,184.59 L320.81,186.14 L322.28,187.61 L323.76,188.97 L325.24,190.20 L326.72,191.33 L328.20,192.40 L329.67,193.38 L331.15,194.26 L332.63,195.01 L334.11,195.68 L335.59,196.30 L337.06,196.85 L338.54,197.31 L340.02,197.66 L341.50,197.94 L342.98,198.20 L344.45,198.42 L345.93,198.57 L347.41,198.62 L348.89,198.60 L350.37,198.52 L351.84,198.38 L353.32,198.18 L354.80,197.90" stroke="#ffff00" stroke-dasharray="11 5"/>
<path d="M59.20,147.40 L60.68,160.81 L62.16,167.97 L63.63,173.70 L65.11,178.75 L66.59,182.83 L68.07,186.26 L69.55,189.18 L71.02,191.63 L72.50,193.74 L73.98,195.50 L75.46,196.98 L76.94,198.29 L78.41,199.42 L79.89,200.39 L81.37,201.23 L82.85,201.96 L84.33,202.59 L85.80,203.11 L87.28,203.60 L88.76,204.14 L90.24,204.81 L91.72,205.60 L93.19,206.56 L94.67,207.83 L96.15,209.42 L97.63,211.19 L99.11,213.01 L100.58,214.74 L102.06,216.39 L103.54,218.06 L105.02,219.71 L106.50,221.32 L107.97,222.86 L109.45,224.33 L110.93,225.77 L112.41,227.24 L113.89,228.71 L115.36,230.18 L116.84,231.74 L118.32,233.52 L119.80,235.58 L121.28,237.80 L122.75,239.99 L124.23,242.32 L125.71,244.72 L127.19,246.67 L128.67,247.86 L130.14,248.90 L131.62,249.78 L133.10,250.43 L134.58,250.78 L136.06,250.76 L137.53,250.51 L139.01,250.10 L140.49,249.61 L141.97,248.94 L143.45,247.98 L144.92,246.79 L146.40,245.43 L147.88,243.75 L149.36,241.70 L150.84,239.25 L152.31,236.38 L153.79,232.56 L155.27,227.24 L156.75,218.80 L158.23,211.00 L159.70,203.96 L161.18,198.26 L162.66,193.49 L164.14,188.86 L165.62,184.46 L167.09,178.64 L168.57,170.24 L170.05,161.82 L171.53,154.74 L173.01,148.10 L174.48,141.59 L175.96,134.89 L177.44,127.72 L178.92,120.44 L180.40,113.73 L181.87,107.61 L183.35,101.85 L184.83,96.76 L186.31,92.50 L187.79,88.77 L189.26,85.45 L190.74,82.46 L192.22,79.73 L193.70,77.23 L195.18,74.94 L196.65,72.84 L198.13,70.79 L199.61,68.91 L201.09,67.55 L202.57,66.58 L204.04,65.79 L205.52,65.40 L207.00,65.47 L208.48,65.79 L209.96,66.27 L211.43,66.83 L212.91,67.60 L214.39,68.72 L215.87,70.10 L217.35,71.69 L218.82,73.51 L220.30,75.88 L221.78,78.62 L223.26,81.50 L224.74,84.56 L226.21,87.91 L227.69,91.40 L229.17,94.90 L230.65,98.28 L232.13,101.63 L233.60,104.98 L235.08,108.24 L236.56,111.32 L238.04,114.14 L239.52,116.78 L240.99,119.39 L242.47,122.14 L243.95,125.19 L245.43,128.16 L246.91,130.78 L248.38,133.21 L249.86,135.37 L251.34,137.28 L252.82,139.04 L254.30,140.69 L255.77,142.23 L257.25,143.70 L258.73,145.12 L260.21,146.50 L261.69,147.81 L263.16,149.02 L264.64,150.09 L266.12,150.98 L267.60,151.74 L269.08,152.46 L270.55,153.25 L272.03,154.05 L273.51,154.86 L274.99,155.70 L276.47,156.57 L277.94,157.50 L279.42,158.53 L280.90,159.66 L282.38,160.82 L283.86,161.93 L285.33,162.94 L286.81,163.89 L288.29,164.82 L289.77,165.71 L291.25,166.56 L292.72,167.37 L294.20,168.13 L295.68,168.81 L297.16,169.45 L298.64,170.12 L300.11,170.89 L301.59,171.76 L303.07,172.70 L304.55,173.73 L306.03,174.83 L307.50,176.03 L308.98,177.41 L310.46,178.94 L311.94,180.52 L313.42,182.06 L314.89,183.47 L316.37,184.78 L317.85,186.05 L319.33,187.27 L320.81,188.42 L322.28,189.48 L323.76,190.48 L325.24,191.43 L326.72,192.34 L328.20,193.18 L329.67,193.96 L331.15,194.67 L332.63,195.33 L334.11,195.95 L335.59,196.49 L337.06,196.94 L338.54,197.32 L340.02,197.67 L341.50,197.97 L342.98,198.22 L344.45,198.38 L345.93,198.50 L347.41,198.59 L348.89,198.62 L350.37,198.57 L351.84,198.43 L353.32,198.20 L354.80,197.90" stroke="#0000ff" stroke-dasharray="11 5"/>
<path d="M59.20,152.69 L60.68,152.91 L62.16,153.52 L63.63,154.47 L65.11,155.68 L66.59,157.07 L68.07,158.74 L69.55,161.64 L71.02,165.34 L72.50,169.04 L73.98,172.64 L75.46,176.35 L76.94,179.86 L78.41,183.09 L79.89,186.19 L81.37,189.12 L82.85,191.89 L84.33,194.51 L85.80,197.00 L87.28,199.35 L88.76,201.51 L90.24,203.47 L91.72,205.29 L93.19,207.02 L94.67,208.72 L96.15,210.40 L97.63,212.02 L99.11,213.62 L100.58,215.22 L102.06,216.82 L103.54,218.43 L105.02,220.02 L106.50,221.60 L107.97,223.15 L109.45,224.63 L110.93,226.05 L112.41,227.52 L113.89,229.17 L115.36,231.12 L116.84,233.32 L118.32,235.54 L119.80,237.63 L121.28,239.75 L122.75,241.78 L124.23,243.59 L125.71,245.25 L127.19,246.76 L128.67,247.92 L130.14,248.86 L131.62,249.72 L133.10,250.40 L134.58,250.77 L136.06,250.76 L137.53,250.51 L139.01,250.10 L140.49,249.61 L141.97,248.94 L143.45,247.98 L144.92,246.79 L146.40,245.43 L147.88,243.75 L149.36,241.70 L150.84,239.25 L152.31,236.38 L153.79,232.56 L155.27,227.24 L156.75,218.80 L158.23,211.00 L159.70,203.96 L161.18,198.26 L162.66,193.49 L164.14,188.86 L165.62,184.46 L167.09,178.64 L168.57,170.24 L170.05,161.82 L171.53,154.74 L173.01,148.10 L174.48,141.59 L175.96,134.89 L177.44,127.83 L178.92,120.66 L180.40,113.73 L181.87,107.00 L183.35,100.42 L184.83,94.32 L186.31,89.02 L187.79,84.38 L189.26,79.44 L190.74,74.06 L192.22,68.68 L193.70,63.56 L195.18,58.26 L196.65,54.56 L198.13,52.78 L199.61,51.54 L201.09,50.57 L202.57,49.68 L204.04,49.27 L205.52,49.56 L207.00,50.23 L208.48,51.09 L209.96,52.43 L211.43,54.18 L212.91,56.36 L214.39,59.20 L215.87,62.47 L217.35,65.92 L218.82,69.49 L220.30,73.49 L221.78,77.61 L223.26,81.50 L224.74,85.04 L226.21,88.43 L227.69,91.72 L229.17,94.98 L230.65,98.28 L232.13,101.63 L233.60,104.98 L235.08,108.24 L236.56,111.32 L238.04,114.14 L239.52,116.78 L240.99,119.39 L242.47,122.14 L243.95,125.19 L245.43,128.16 L246.91,130.78 L248.38,133.21 L249.86,135.37 L251.34,137.28 L252.82,139.04 L254.30,140.69 L255.77,142.23 L257.25,143.70 L258.73,145.12 L260.21,146.50 L261.69,147.81 L263.16,149.02 L264.64,150.09 L266.12,150.98 L267.60,151.74 L269.08,152.46 L270.55,153.25 L272.03,154.05 L273.51,154.86 L274.99,155.70 L276.47,156.57 L277.94,157.50 L279.42,158.53 L280.90,159.66 L282.38,160.82 L283.86,161.93 L285.33,162.94 L286.81,163.89 L288.29,164.82 L289.77,165.71 L291.25,166.56 L292.72,167.37 L294.20,168.13 L295.68,168.81 L297.16,169.45 L298.64,170.12 L300.11,170.89 L301.59,171.76 L303.07,172.70 L304.55,173.73 L306.03,174.83 L307.50,176.03 L308.98,177.41 L310.46,178.94 L311.94,180.52 L313.42,182.06 L314.89,183.47 L316.37,184.78 L317.85,186.05 L319.33,187.27 L320.81,188.42 L322.28,189.48 L323.76,190.48 L325.24,191.43 L326.72,192.34 L328.20,193.18 L329.67,193.96 L331.15,194.67 L332.63,195.33 L334.11,195.95 L335.59,196.49 L337.06,196.94 L338.54,197.32 L340.02,197.67 L341.50,197.97 L342.98,198.22 L344.45,198.38 L345.93,198.50 L347.41,198.59 L348.89,198.62 L350.37,198.57 L351.84,198.43 L353.32,198.20 L354.80,197.90" stroke="#ff00ff" stroke-dasharray="11 5"/>
<path d="M59.20,149.80 L60.68,151.52 L62.16,153.43 L63.63,155.52 L65.11,157.76 L66.59,160.12 L68.07,162.60 L69.55,165.39 L71.02,168.38 L72.50,171.44 L73.98,174.60 L75.46,177.87 L76.94,181.06 L78.41,184.19 L79.89,187.30 L81.37,190.29 L82.85,193.09 L84.33,195.71 L85.80,198.21 L87.28,200.55 L88.76,202.71 L90.24,204.67 L91.72,206.48 L93.19,208.20 L94.67,209.93 L96.15,211.65 L97.63,213.36 L99.11,215.03 L100.58,216.66 L102.06,218.25 L103.54,219.80 L105.02,221.32 L106.50,222.84 L107.97,224.36 L109.45,225.82 L110.93,227.24 L112.41,228.72 L113.89,230.37 L115.36,232.35 L116.84,234.57 L118.32,236.77 L119.80,238.75 L121.28,240.66 L122.75,242.46 L124.23,244.08 L125.71,245.54 L127.19,246.86 L128.67,247.92 L130.14,248.83 L131.62,249.70 L133.10,250.39 L134.58,250.77 L136.06,250.76 L137.53,250.51 L139.01,250.10 L140.49,249.61 L141.97,248.94 L143.45,247.98 L144.92,246.79 L146.40,245.43 L147.88,243.75 L149.36,241.70 L150.84,239.25 L152.31,236.38 L153.79,232.56 L155.27,227.24 L156.75,218.80 L158.23,211.00 L159.70,203.96 L161.18,198.26 L162.66,193.49 L164.14,188.86 L165.62,184.46 L167.09,178.64 L168.57,170.24 L170.05,161.82 L171.53,154.70 L173.01,147.99 L174.48,141.47 L175.96,134.89 L177.44,128.05 L178.92,121.25 L180.40,114.93 L181.87,109.12 L183.35,103.65 L184.83,98.69 L186.31,94.39 L187.79,90.60 L189.26,87.10 L190.74,83.66 L192.22,80.13 L193.70,76.63 L195.18,73.34 L196.65,70.44 L198.13,67.78 L199.61,65.39 L201.09,63.70 L202.57,62.53 L204.04,61.54 L205.52,60.93 L207.00,60.86 L208.48,61.35 L209.96,62.20 L211.43,63.22 L212.91,64.64 L214.39,66.65 L215.87,68.99 L217.35,71.42 L218.82,73.75 L220.30,76.17 L221.78,78.74 L223.26,81.50 L224.74,84.56 L226.21,87.91 L227.69,91.40 L229.17,94.90 L230.65,98.28 L232.13,101.68 L233.60,105.09 L235.08,108.35 L236.56,111.32 L238.04,113.98 L239.52,116.44 L240.99,118.75 L242.47,120.94 L243.95,123.01 L245.43,124.96 L246.91,126.84 L248.38,128.69 L249.86,130.56 L251.34,132.51 L252.82,134.51 L254.30,136.47 L255.77,138.31 L257.25,139.94 L258.73,141.37 L260.21,142.67 L261.69,143.87 L263.16,144.99 L264.64,146.02 L266.12,146.96 L267.60,147.86 L269.08,148.76 L270.55,149.71 L272.03,150.70 L273.51,151.70 L274.99,152.65 L276.47,153.49 L277.94,154.23 L279.42,154.90 L280.90,155.55 L282.38,156.23 L283.86,156.99 L285.33,157.87 L286.81,158.91 L288.29,160.08 L289.77,161.31 L291.25,162.55 L292.72,163.75 L294.20,164.89 L295.68,166.02 L297.16,167.16 L298.64,168.32 L300.11,169.53 L301.59,170.78 L303.07,172.07 L304.55,173.39 L306.03,174.73 L307.50,176.07 L308.98,177.45 L310.46,178.84 L311.94,180.24 L313.42,181.63 L314.89,182.99 L316.37,184.35 L317.85,185.74 L319.33,187.08 L320.81,188.35 L322.28,189.48 L323.76,190.50 L325.24,191.46 L326.72,192.36 L328.20,193.19 L329.67,193.96 L331.15,194.67 L332.63,195.33 L334.11,195.95 L335.59,196.49 L337.06,196.94 L338.54,197.32 L340.02,197.67 L341.50,197.97 L342.98,198.22 L344.45,198.38 L345.93,198.50 L347.41,198.59 L348.89,198.62 L350.37,198.57 L351.84,198.43 L353.32,198.20 L354.80,197.90" stroke="#00ffff" stroke-dasharray="11 5"/>
<path d="M59.20,142.59 L60.68,145.48 L62.16,148.45 L63.63,151.50 L65.11,154.61 L66.59,157.83 L68.07,161.15 L69.55,164.50 L71.02,167.84 L72.50,171.17 L73.98,174.53 L75.46,177.85 L76.94,181.06 L78.41,184.21 L79.89,187.32 L81.37,190.30 L82.85,193.09 L84.33,195.70 L85.80,198.17 L87.28,200.51 L88.76,202.71 L90.24,204.78 L91.72,206.73 L93.19,208.59 L94.67,210.41 L96.15,212.15 L97.63,213.83 L99.11,215.48 L100.58,217.14 L102.06,218.81 L103.54,220.48 L105.02,222.15 L106.50,223.84 L107.97,225.56 L109.45,227.30 L110.93,229.06 L112.41,230.87 L113.89,232.77 L115.36,234.82 L116.84,236.99 L118.32,239.15 L119.80,241.24 L121.28,243.33 L122.75,245.36 L124.23,247.20 L125.71,248.96 L127.19,250.68 L128.67,252.16 L130.14,253.22 L131.62,253.99 L133.10,254.68 L134.58,255.23 L136.06,255.56 L137.53,255.59 L139.01,255.24 L140.49,254.65 L141.97,253.94 L143.45,253.04 L144.92,251.80 L146.40,250.24 L147.88,248.41 L149.36,245.95 L150.84,242.66 L152.31,238.78 L153.79,234.08 L155.27,227.96 L156.75,218.87 L158.23,210.91 L159.70,203.95 L161.18,198.26 L162.66,193.49 L164.14,188.86 L165.62,184.46 L167.09,178.64 L168.57,170.24 L170.05,161.82 L171.53,154.74 L173.01,148.10 L174.48,141.59 L175.96,134.89 L177.44,127.83 L178.92,120.67 L180.40,113.73 L181.87,107.00 L183.35,100.47 L184.83,94.49 L186.31,89.29 L187.79,84.48 L189.26,79.41 L190.74,74.02 L192.22,68.67 L193.70,63.56 L195.18,58.26 L196.65,54.56 L198.13,52.78 L199.61,51.54 L201.09,50.57 L202.57,49.68 L204.04,49.27 L205.52,49.56 L207.00,50.23 L208.48,51.09 L209.96,52.43 L211.43,54.18 L212.91,56.36 L214.39,59.20 L215.87,62.47 L217.35,65.92 L218.82,69.49 L220.30,73.49 L221.78,77.61 L223.26,81.50 L224.74,85.04 L226.21,88.43 L227.69,91.72 L229.17,94.98 L230.65,98.28 L232.13,101.63 L233.60,104.98 L235.08,108.24 L236.56,111.32 L238.04,114.14 L239.52,116.78 L240.99,119.39 L242.47,122.14 L243.95,125.19 L245.43,128.16 L246.91,130.78 L248.38,133.21 L249.86,135.37 L251.34,137.28 L252.82,139.04 L254.30,140.69 L255.77,142.23 L257.25,143.70 L258.73,145.12 L260.21,146.50 L261.69,147.81 L263.16,149.02 L264.64,150.09 L266.12,150.98 L267.60,151.74 L269.08,152.46 L270.55,153.25 L272.03,154.05 L273.51,154.86 L274.99,155.70 L276.47,156.57 L277.94,157.50 L279.42,158.53 L280.90,159.66 L282.38,160.82 L283.86,161.93 L285.33,162.94 L286.81,163.89 L288.29,164.82 L289.77,165.71 L291.25,166.56 L292.72,167.37 L294.20,168.13 L295.68,168.81 L297.16,169.45 L298.64,170.12 L300.11,170.89 L301.59,171.76 L303.07,172.70 L304.55,173.73 L306.03,174.83 L307.50,176.03 L308.98,177.41 L310.46,178.94 L311.94,180.52 L313.42,182.06 L314.89,183.47 L316.37,184.78 L317.85,186.05 L319.33,187.27 L320.81,188.42 L322.28,189.48 L323.76,190.48 L325.24,191.43 L326.72,192.34 L328.20,193.18 L329.67,193.96 L331.15,194.67 L332.63,195.33 L334.11,195.95 L335.59,196.49 L337.06,196.94 L338.54,197.32 L340.02,197.67 L341.50,197.97 L342.98,198.22 L344.45,198.38 L345.93,198.50 L347.41,198.59 L348.89,198.62 L350.37,198.57 L351.84,198.43 L353.32,198.20 L354.80,197.90" stroke="#000000" stroke-dasharray="1.2 2.4"/>
<path d="M59.20,144.99 L60.68,147.88 L62.16,150.86 L63.63,153.90 L65.11,157.02 L66.59,160.23 L68.07,163.55 L69.55,166.91 L71.02,170.24 L72.50,173.58 L73.98,176.93 L75.46,180.25 L76.94,183.47 L78.41,186.62 L79.89,189.72 L81.37,192.70 L82.85,195.50 L84.33,198.11 L85.80,200.61 L87.28,202.95 L88.76,205.12 L90.24,207.08 L91.72,208.88 L93.19,210.61 L94.67,212.33 L96.15,214.06 L97.63,215.76 L99.11,217.43 L100.58,219.06 L102.06,220.63 L103.54,222.13 L105.02,223.62 L106.50,225.15 L107.97,226.76 L109.45,228.46 L110.93,230.22 L112.41,232.06 L113.89,233.98 L115.36,236.03 L116.84,238.19 L118.32,240.35 L119.80,242.44 L121.28,244.54 L122.75,246.56 L124.23,248.41 L125.71,250.17 L127.19,251.88 L128.67,253.36 L130.14,254.42 L131.62,255.19 L133.10,255.89 L134.58,256.44 L136.06,256.76 L137.53,256.79 L139.01,256.45 L140.49,255.85 L141.97,255.14 L143.45,254.24 L144.92,253.00 L146.40,251.44 L147.88,249.61 L149.36,247.16 L150.84,243.90 L152.31,239.99 L153.79,235.08 L155.27,228.68 L156.75,219.39 L158.23,211.19 L159.70,204.00 L161.18,198.24 L162.66,193.48 L164.14,188.86 L165.62,184.46 L167.09,178.66 L168.57,170.38 L170.05,161.82 L171.53,154.12 L173.01,146.59 L174.48,139.23 L175.96,132.02 L177.44,124.97 L178.92,118.07 L180.40,111.32 L181.87,104.57 L183.35,98.05 L184.83,92.29 L186.31,87.25 L187.79,82.48 L189.26,77.53 L190.74,72.05 L192.22,66.46 L193.70,61.34 L195.18,57.24 L196.65,54.59 L198.13,52.71 L199.61,50.45 L201.09,48.55 L202.57,47.46 L204.04,46.89 L205.52,47.01 L207.00,47.47 L208.48,48.13 L209.96,49.30 L211.43,50.78 L212.91,52.67 L214.39,55.33 L215.87,58.98 L217.35,62.93 L218.82,66.58 L220.30,70.17 L221.78,73.75 L223.26,77.30 L224.74,80.81 L226.21,84.21 L227.69,87.52 L229.17,90.80 L230.65,94.14 L232.13,97.61 L233.60,101.38 L235.08,105.28 L236.56,108.91 L238.04,112.06 L239.52,114.95 L240.99,117.83 L242.47,120.94 L243.95,124.64 L245.43,128.16 L246.91,130.88 L248.38,133.26 L249.86,135.37 L251.34,137.28 L252.82,139.04 L254.30,140.69 L255.77,142.23 L257.25,143.70 L258.73,145.12 L260.21,146.50 L261.69,147.81 L263.16,149.02 L264.64,150.09 L266.12,150.98 L267.60,151.74 L269.08,152.46 L270.55,153.25 L272.03,154.05 L273.51,154.86 L274.99,155.70 L276.47,156.57 L277.94,157.50 L279.42,158.53 L280.90,159.66 L282.38,160.82 L283.86,161.93 L285.33,162.94 L286.81,163.89 L288.29,164.82 L289.77,165.71 L291.25,166.56 L292.72,167.37 L294.20,168.13 L295.68,168.81 L297.16,169.45 L298.64,170.12 L300.11,170.89 L301.59,171.76 L303.07,172.70 L304.55,173.73 L306.03,174.83 L307.50,176.03 L308.98,177.41 L310.46,178.94 L311.94,180.52 L313.42,182.06 L314.89,183.47 L316.37,184.78 L317.85,186.05 L319.33,187.27 L320.81,188.42 L322.28,189.48 L323.76,190.48 L325.24,191.43 L326.72,192.34 L328.20,193.18 L329.67,193.96 L331.15,194.67 L332.63,195.33 L334.11,195.95 L335.59,196.49 L337.06,196.94 L338.54,197.32 L340.02,197.67 L341.50,197.97 L342.98,198.22 L344.45,198.38 L345.93,198.50 L347.41,198.59 L348.89,198.62 L350.37,198.57 L351.84,198.43 L353.32,198.20 L354.80,197.90" stroke="#ff0000" stroke-dasharray="1.2 2.4"/>
<path d="M59.20,157.98 L60.68,160.47 L62.16,162.94 L63.63,165.40 L65.11,167.84 L66.59,170.26 L68.07,172.67 L69.55,175.05 L71.02,177.33 L72.50,179.54 L73.98,181.90 L75.46,184.66 L76.94,188.12 L78.41,191.50 L79.89,194.04 L81.37,196.12 L82.85,198.00 L84.33,199.83 L85.80,201.57 L87.28,203.23 L88.76,204.84 L90.24,206.44 L91.72,208.06 L93.19,209.73 L94.67,211.43 L96.15,213.14 L97.63,214.83 L99.11,216.49 L100.58,218.09 L102.06,219.63 L103.54,221.12 L105.02,222.62 L106.50,224.15 L107.97,225.75 L109.45,227.46 L110.93,229.29 L112.41,231.20 L113.89,233.18 L115.36,235.18 L116.84,237.24 L118.32,239.38 L119.80,241.53 L121.28,243.59 L122.75,245.63 L124.23,247.64 L125.71,249.56 L127.19,251.29 L128.67,252.89 L130.14,254.41 L131.62,255.76 L133.10,256.82 L134.58,257.74 L136.06,258.60 L137.53,259.29 L139.01,259.67 L140.49,259.63 L141.97,259.17 L143.45,258.41 L144.92,257.45 L146.40,256.34 L147.88,254.68 L149.36,252.41 L150.84,249.61 L152.31,245.44 L153.79,239.87 L155.27,234.00 L156.75,227.47 L158.23,220.75 L159.70,214.26 L161.18,207.52 L162.66,200.02 L164.14,192.63 L165.62,185.67 L167.09,178.22 L168.57,170.13 L170.05,161.82 L171.53,153.41 L173.01,144.88 L174.48,136.52 L175.96,128.31 L177.44,120.36 L178.92,113.61 L180.40,107.92 L181.87,102.64 L183.35,97.34 L184.83,92.22 L186.31,86.79 L187.79,80.58 L189.26,74.04 L190.74,67.57 L192.22,61.04 L193.70,54.23 L195.18,47.50 L196.65,42.78 L198.13,40.43 L199.61,38.39 L201.09,36.76 L202.57,35.99 L204.04,35.58 L205.52,35.70 L207.00,36.15 L208.48,36.90 L209.96,38.53 L211.43,40.41 L212.91,42.55 L214.39,45.06 L215.87,48.01 L217.35,51.29 L218.82,54.96 L220.30,58.84 L221.78,62.93 L223.26,67.17 L224.74,71.49 L226.21,75.89 L227.69,80.43 L229.17,85.03 L230.65,89.58 L232.13,94.00 L233.60,98.26 L235.08,102.41 L236.56,106.51 L238.04,110.82 L239.52,115.08 L240.99,118.54 L242.47,120.85 L243.95,122.74 L245.43,125.03 L246.91,128.61 L248.38,132.90 L249.86,136.57 L251.34,139.24 L252.82,141.53 L254.30,143.61 L255.77,145.67 L257.25,147.88 L258.73,150.30 L260.21,152.78 L261.69,155.13 L263.16,157.33 L264.64,159.43 L266.12,161.10 L267.60,162.29 L269.08,163.24 L270.55,164.07 L272.03,164.80 L273.51,165.45 L274.99,166.08 L276.47,166.71 L277.94,167.40 L279.42,168.12 L280.90,168.85 L282.38,169.58 L283.86,170.30 L285.33,171.00 L286.81,171.70 L288.29,172.40 L289.77,173.08 L291.25,173.73 L292.72,174.33 L294.20,174.86 L295.68,175.32 L297.16,175.78 L298.64,176.28 L300.11,176.86 L301.59,177.58 L303.07,178.41 L304.55,179.27 L306.03,180.11 L307.50,180.88 L308.98,181.59 L310.46,182.26 L311.94,182.94 L313.42,183.65 L314.89,184.43 L316.37,185.31 L317.85,186.29 L319.33,187.30 L320.81,188.30 L322.28,189.24 L323.76,190.13 L325.24,191.01 L326.72,191.86 L328.20,192.69 L329.67,193.47 L331.15,194.19 L332.63,194.90 L334.11,195.58 L335.59,196.19 L337.06,196.70 L338.54,197.14 L340.02,197.55 L341.50,197.91 L342.98,198.20 L344.45,198.38 L345.93,198.50 L347.41,198.59 L348.89,198.62 L350.37,198.57 L351.84,198.43 L353.32,198.20 L354.80,197.90" stroke="#00ff00" stroke-dasharray="1.2 2.4"/>
</g>
<g stroke="#000" fill="none">
<path d="M58.2,17.6 H354.9 V282.3 H58.2" stroke-width="1.3" stroke="#2a2a2a"/>
<path d="M59.1,17 V283" stroke-width="2.0" stroke="#4a4a4a"/>
<path d="M71.02,282.3 v-2.6 M82.85,282.3 v-2.6 M94.67,282.3 v-2.6 M106.50,282.3 v-2.6 M118.32,282.3 v-2.6 M130.14,282.3 v-2.6 M141.97,282.3 v-2.6 M153.79,282.3 v-2.6 M165.62,282.3 v-2.6 M177.44,282.3 v-2.6 M189.26,282.3 v-2.6 M201.09,282.3 v-2.6 M212.91,282.3 v-2.6 M224.74,282.3 v-2.6 M236.56,282.3 v-2.6 M248.38,282.3 v-2.6 M260.21,282.3 v-2.6 M272.03,282.3 v-2.6 M283.86,282.3 v-2.6 M295.68,282.3 v-2.6 M307.50,282.3 v-2.6 M319.33,282.3 v-2.6 M331.15,282.3 v-2.6 M342.98,282.3 v-2.6 M59.2,274.86 h2.8 M59.2,265.24 h2.8 M59.2,255.62 h2.8 M59.2,246.00 h2.8 M59.2,236.38 h2.8 M59.2,226.76 h2.8 M59.2,217.14 h2.8 M59.2,207.52 h2.8 M59.2,197.90 h2.8 M59.2,188.28 h2.8 M59.2,178.66 h2.8 M59.2,169.04 h2.8 M59.2,159.42 h2.8 M59.2,149.80 h2.8 M59.2,140.18 h2.8 M59.2,130.56 h2.8 M59.2,120.94 h2.8 M59.2,111.32 h2.8 M59.2,101.70 h2.8 M59.2,92.08 h2.8 M59.2,82.46 h2.8 M59.2,72.84 h2.8 M59.2,63.22 h2.8 M59.2,53.60 h2.8 M59.2,43.98 h2.8 M59.2,34.36 h2.8 M59.2,24.74 h2.8" stroke-width="1.2"/>
</g>
<g font-size="14" fill="#000" text-anchor="middle">
<text x="59.20" y="301">220</text>
<text x="118.32" y="301">240</text>
<text x="177.44" y="301">260</text>
<text x="236.56" y="301">280</text>
<text x="295.68" y="301">300</text>
<text x="354.80" y="301">320</text>
</g>
<g font-size="14" fill="#000" text-anchor="end">
<text x="52.3" y="58.40">6</text>
<text x="52.3" y="106.50">4</text>
<text x="52.3" y="154.60">2</text>
<text x="52.3" y="202.70">0</text>
<text x="52.3" y="250.80">-2</text>
</g>
<text x="143" y="328.2" font-size="16.5" textLength="130" lengthAdjust="spacing">Wavelength (nm)</text>
<text transform="translate(24,276.2) rotate(-90)" font-size="15.5" textLength="253.5" lengthAdjust="spacingAndGlyphs">Molar Ellipticity (10<tspan dy="-8" font-size="10.5">6</tspan><tspan dy="8"> mdeg M</tspan><tspan dy="-8" font-size="10.5">-1</tspan><tspan dy="8"> cm</tspan><tspan dy="-8" font-size="10.5">-1</tspan><tspan dy="8">)</tspan></text>
<g fill="none" stroke-width="1.2">
<path d="M399,10.20 H436.6" stroke="#000000" />
<path d="M399,28.25 H436.6" stroke="#ff0000" />
<path d="M399,46.30 H436.6" stroke="#00ff00" />
<path d="M399,64.35 H436.6" stroke="#ffff00" />
<path d="M399,82.40 H436.6" stroke="#0000ff" />
<path d="M399,100.45 H436.6" stroke="#ff00ff" />
<path d="M399,118.50 H436.6" stroke="#00ffff" />
<path d="M399,136.55 H436.6" stroke="#000000" stroke-dasharray="12.5 3.5"/>
<path d="M399,154.60 H436.6" stroke="#ff0000" stroke-dasharray="12.5 3.5"/>
<path d="M399,172.65 H436.6" stroke="#00ff00" stroke-dasharray="12.5 3.5"/>
<path d="M399,190.70 H436.6" stroke="#ffff00" stroke-dasharray="12.5 3.5"/>
<path d="M399,208.75 H436.6" stroke="#0000ff" stroke-dasharray="12.5 3.5"/>
<path d="M399,226.80 H436.6" stroke="#ff00ff" stroke-dasharray="12.5 3.5"/>
<path d="M399,244.85 H436.6" stroke="#00ffff" stroke-dasharray="12.5 3.5"/>
<path d="M399,262.90 H436.6" stroke="#000000" stroke-dasharray="1.2 2.4"/>
<path d="M399,280.95 H436.6" stroke="#ff0000" stroke-dasharray="1.2 2.4"/>
<path d="M399,299.00 H436.6" stroke="#00ff00" stroke-dasharray="1.2 2.4"/>
</g>
<g font-size="14" fill="#000">
<text transform="translate(445.6,15.20) scale(1.1,1)" font-size="14.8" textLength="65.27" lengthAdjust="spacing" xml:space="preserve">0%  AcCN</text>
<text transform="translate(445.6,33.25) scale(1.1,1)" font-size="14.8" textLength="73.09" lengthAdjust="spacing" xml:space="preserve">2.5% AcCN</text>
<text transform="translate(445.6,51.30) scale(1.1,1)" font-size="14.8" textLength="73.09" lengthAdjust="spacing" xml:space="preserve">5.0% AcCN</text>
<text transform="translate(445.6,69.35) scale(1.1,1)" font-size="14.8" textLength="73.09" lengthAdjust="spacing" xml:space="preserve">7.5% AcCN</text>
<text transform="translate(445.6,87.40) scale(1.1,1)" font-size="14.8" textLength="80.55" lengthAdjust="spacing" xml:space="preserve">10.0% AcCN</text>
<text transform="translate(445.6,105.45) scale(1.1,1)" font-size="14.8" textLength="80.55" lengthAdjust="spacing" xml:space="preserve">12.5% AcCN</text>
<text transform="translate(445.6,123.50) scale(1.1,1)" font-size="14.8" textLength="80.55" lengthAdjust="spacing" xml:space="preserve">15.0% AcCN</text>
<text transform="translate(445.6,141.55) scale(1.1,1)" font-size="14.8" textLength="84.18" lengthAdjust="spacing" xml:space="preserve">17.5 % AcCN</text>
<text transform="translate(445.6,159.60) scale(1.1,1)" font-size="14.8" textLength="80.55" lengthAdjust="spacing" xml:space="preserve">20.0% AcCN</text>
<text transform="translate(445.6,177.65) scale(1.1,1)" font-size="14.8" textLength="80.55" lengthAdjust="spacing" xml:space="preserve">22.5% AcCN</text>
<text transform="translate(445.6,195.70) scale(1.1,1)" font-size="14.8" textLength="80.55" lengthAdjust="spacing" xml:space="preserve">25.0% AcCN</text>
<text transform="translate(445.6,213.75) scale(1.1,1)" font-size="14.8" textLength="80.55" lengthAdjust="spacing" xml:space="preserve">27.5% AcCN</text>
<text transform="translate(445.6,231.80) scale(1.1,1)" font-size="14.8" textLength="80.55" lengthAdjust="spacing" xml:space="preserve">30.0% AcCN</text>
<text transform="translate(445.6,249.85) scale(1.1,1)" font-size="14.8" textLength="80.55" lengthAdjust="spacing" xml:space="preserve">32.5% AcCN</text>
<text transform="translate(445.6,267.90) scale(1.1,1)" font-size="14.8" textLength="80.55" lengthAdjust="spacing" xml:space="preserve">35.0% AcCN</text>
<text transform="translate(445.6,285.95) scale(1.1,1)" font-size="14.8" textLength="84.18" lengthAdjust="spacing" xml:space="preserve">37.5 % AcCN</text>
<text transform="translate(445.6,304.00) scale(1.1,1)" font-size="14.8" textLength="80.55" lengthAdjust="spacing" xml:space="preserve">40.0% AcCN</text>
</g>
</svg></body></html>
